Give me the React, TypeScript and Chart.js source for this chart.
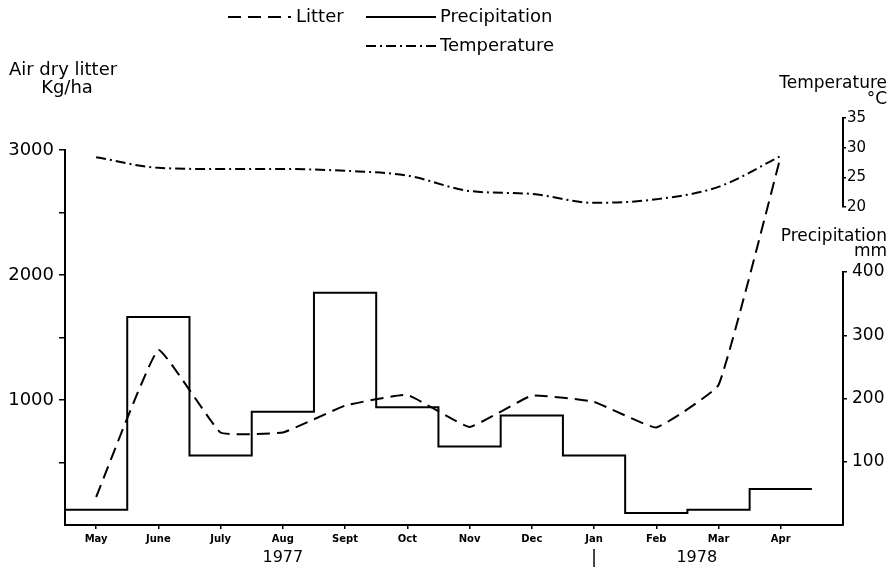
import React, { useEffect, useRef } from "react";
import { Chart, registerables } from "chart.js";

Chart.register(...registerables);

const months = ["May", "June", "July", "Aug", "Sept", "Oct", "Nov", "Dec", "Jan", "Feb", "Mar", "Apr"];
const litter = [224, 1400, 740, 740, 955, 1040, 785, 1035, 985, 780, 1120, 2950];
const precipitation = [24, 329, 110, 179, 367, 186, 124, 173, 110, 19, 24, 57];
const temperature = [28.4, 26.6, 26.4, 26.4, 26.1, 25.3, 22.7, 22.2, 20.7, 21.3, 23.4, 28.6];

const litterTickValues = [500, 1000, 1500, 2000, 2500, 3000];
const litterLabelled = [1000, 2000, 3000];
const precipTickValues = [100, 200, 300, 400];
const tempTickValues = [20, 25, 30, 35];
const yearLabels = ["1977", "1978"];
const yearPositions = [3, 9.65];
const yearDivider = 8;

const FONT = "'DejaVu Sans', sans-serif";

const textPlugin = {
  id: "textPlugin",
  afterDraw(chart: any) {
    const ctx = chart.ctx as CanvasRenderingContext2D;
    const xs = chart.scales.x;
    ctx.save();
    ctx.fillStyle = "#000";
    ctx.strokeStyle = "#000";
    ctx.textBaseline = "middle";

    // legend
    const ds = chart.data.datasets;
    const drawSample = (x1: number, x2: number, y: number, d: any) => {
      ctx.save();
      ctx.lineWidth = d.borderWidth;
      ctx.setLineDash(d.borderDash || []);
      ctx.beginPath();
      ctx.moveTo(x1, y);
      ctx.lineTo(x2, y);
      ctx.stroke();
      ctx.restore();
    };
    ctx.font = `18px ${FONT}`;
    ctx.textAlign = "left";
    drawSample(228, 291, 17, ds[0]);
    ctx.fillText(ds[0].label, 296, 17);
    drawSample(366, 436, 17, ds[1]);
    ctx.fillText(ds[1].label, 440, 17);
    drawSample(366, 436, 46, ds[2]);
    ctx.fillText(ds[2].label, 440, 46);

    // left axis title
    ctx.textAlign = "center";
    ctx.font = `18px ${FONT}`;
    ctx.fillText("Air dry litter", 63, 70);
    ctx.fillText("Kg/ha", 67, 88);

    // right axis titles
    ctx.textAlign = "right";
    ctx.font = `17px ${FONT}`;
    ctx.fillText("Temperature", 887, 84);
    ctx.fillText("°C", 887, 100);
    ctx.fillText("Precipitation", 887, 237);
    ctx.fillText("mm", 887, 252);

    // years
    ctx.textAlign = "center";
    ctx.font = `16px ${FONT}`;
    yearLabels.forEach((t, i) => {
      ctx.fillText(t, xs.getPixelForValue(yearPositions[i]), 558);
    });
    ctx.font = `18px ${FONT}`;
    ctx.fillText("|", xs.getPixelForValue(yearDivider), 558);
    ctx.restore();
  },
};

export default function App() {
  const ref = useRef<HTMLCanvasElement | null>(null);

  useEffect(() => {
    if (!ref.current) return;
    const litterPts = litter.map((v, i) => ({ x: i, y: v }));
    const precipPts = precipitation.map((v, i) => ({ x: i - 0.5, y: v }));
    precipPts.push({ x: precipitation.length - 0.5, y: precipitation[precipitation.length - 1] });
    const tempPts = temperature.map((v, i) => ({ x: i, y: v }));

    const hiddenAxis = (pos: string, stack: string, weight: number, width: number) => ({
      type: "linear",
      position: pos,
      stack,
      stackWeight: weight,
      min: 0,
      max: 1,
      display: true,
      grid: { display: false, drawTicks: false },
      border: { display: false },
      ticks: { display: false },
      afterFit: (s: any) => {
        s.width = width;
      },
    });

    const chart = new Chart(ref.current, {
      type: "line",
      data: {
        datasets: [
          {
            label: "Litter",
            data: litterPts,
            xAxisID: "x",
            yAxisID: "yLitter",
            borderColor: "#000",
            borderWidth: 2,
            borderDash: [13, 7],
            pointRadius: 0,
            tension: 0.1,
            fill: false,
          },
          {
            label: "Precipitation",
            data: precipPts,
            xAxisID: "x",
            yAxisID: "yPrecip",
            borderColor: "#000",
            borderWidth: 2,
            stepped: "before",
            pointRadius: 0,
            fill: false,
          },
          {
            label: "Temperature",
            data: tempPts,
            xAxisID: "x",
            yAxisID: "yTemp",
            borderColor: "#000",
            borderWidth: 2,
            borderDash: [10, 4, 2, 4],
            pointRadius: 0,
            cubicInterpolationMode: "monotone",
            fill: false,
          },
        ],
      },
      options: {
        animation: false,
        responsive: false,
        layout: { padding: { top: 118, left: 0, right: 0, bottom: 0 } },
        plugins: { legend: { display: false }, tooltip: { enabled: false } },
        scales: {
          x: {
            type: "linear",
            position: "bottom",
            min: -0.5,
            max: 12,
            afterBuildTicks: (s: any) => {
              s.ticks = months.map((_, i) => ({ value: i }));
            },
            ticks: {
              autoSkip: false,
              maxRotation: 0,
              padding: 4,
              color: "#000",
              font: { family: FONT, size: 10, weight: "bold" },
              callback: (v: any) => months[v] ?? "",
            },
            grid: { display: true, drawOnChartArea: false, tickLength: 4, color: "#000", lineWidth: 1.5 },
            border: { display: true, color: "#000", width: 2 },
            afterFit: (s: any) => {
              s.height = 48;
            },
          },
          yLitter: {
            type: "linear",
            position: "left",
            stack: "left",
            stackWeight: 375,
            min: 0,
            max: 3000,
            afterBuildTicks: (s: any) => {
              s.ticks = litterTickValues.map((v) => ({ value: v }));
            },
            ticks: {
              autoSkip: false,
              color: "#000",
              padding: 5,
              font: { family: FONT, size: 18 },
              callback: (v: any) => (litterLabelled.includes(v) ? String(v) : ""),
            },
            grid: { display: true, drawOnChartArea: false, tickLength: 6, color: "#000", lineWidth: 1.5 },
            border: { display: true, color: "#000", width: 2 },
            afterFit: (s: any) => {
              s.width = 65;
            },
          },
          yLGap: hiddenAxis("left", "left", 32, 65),
          yTemp: {
            type: "linear",
            position: "right",
            stack: "right",
            stackWeight: 89,
            min: 20,
            max: 35,
            afterBuildTicks: (s: any) => {
              s.ticks = tempTickValues.map((v) => ({ value: v }));
            },
            ticks: {
              autoSkip: false,
              color: "#000",
              padding: 1,
              font: { family: FONT, size: 15 },
            },
            grid: { display: true, drawOnChartArea: false, tickLength: 3, color: "#000", lineWidth: 1.5 },
            border: { display: true, color: "#000", width: 2 },
            afterFit: (s: any) => {
              s.width = 52;
            },
          },
          yRGap: hiddenAxis("right", "right", 65, 52),
          yPrecip: {
            type: "linear",
            position: "right",
            stack: "right",
            stackWeight: 253,
            min: 0,
            max: 400,
            afterBuildTicks: (s: any) => {
              s.ticks = precipTickValues.map((v) => ({ value: v }));
            },
            ticks: {
              autoSkip: false,
              color: "#000",
              padding: 5,
              font: { family: FONT, size: 17 },
            },
            grid: { display: true, drawOnChartArea: false, tickLength: 4, color: "#000", lineWidth: 1.5 },
            border: { display: true, color: "#000", width: 2 },
            afterFit: (s: any) => {
              s.width = 52;
            },
          },
        },
      } as any,
      plugins: [textPlugin],
    });
    return () => chart.destroy();
  }, []);

  return (
    <div style={{ position: "fixed", left: 0, top: 0, width: 895, height: 573, background: "#fff" }}>
      <canvas ref={ref} width={895} height={573} style={{ display: "block" }} />
    </div>
  );
}
